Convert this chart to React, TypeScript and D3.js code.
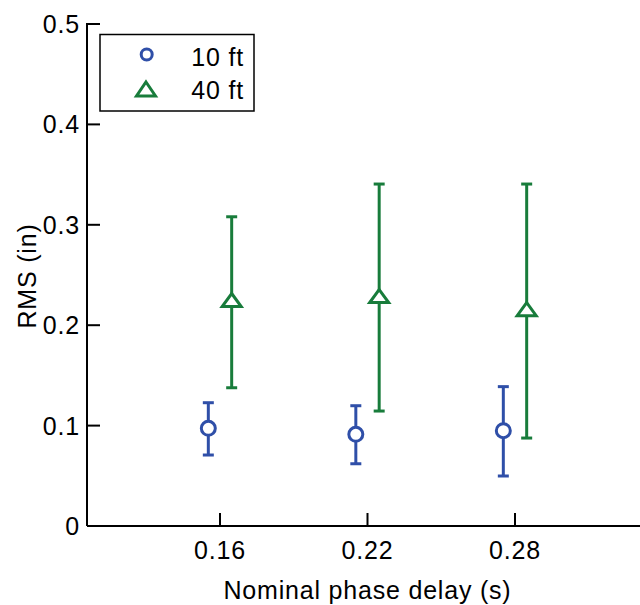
import React from "react";
import * as d3 from "d3";

const categories = [0.16, 0.22, 0.28];
const xTickLabels = ["0.16", "0.22", "0.28"];
const yTicks = [0, 0.1, 0.2, 0.3, 0.4, 0.5];
const yTickLabels = ["0", "0.1", "0.2", "0.3", "0.4", "0.5"];

const series10Mean = [0.0973, 0.0913, 0.0949];
const series10Upper = [0.1228, 0.1198, 0.1388];
const series10Lower = [0.0707, 0.062, 0.0498];

const series40Mean = [0.2251, 0.229, 0.216];
const series40Upper = [0.308, 0.3406, 0.3406];
const series40Lower = [0.1377, 0.1145, 0.0876];

const seriesNames = ["10 ft", "40 ft"];

const BLUE = "#2f4fa8";
const GREEN = "#187c3b";
const FONT = "'Liberation Sans', Arial, Helvetica, sans-serif";

export default function App() {
  const W = 640;
  const H = 605;
  const x = d3.scaleLinear().domain([0.16, 0.28]).range([220, 515]);
  const y = d3.scaleLinear().domain([0, 0.5]).range([526, 24]);
  const x0 = 87;
  const xEnd = 642;
  const offset = 0.00475;
  const tick = 13;
  const fs = 25;
  const ls = 0.8;

  const triPath = (cx: number, cy: number, w: number, h: number) =>
    `M${cx},${cy - h / 2}L${cx + w / 2},${cy + h / 2}L${cx - w / 2},${cy + h / 2}Z`;

  const series = [
    { name: seriesNames[0], mean: series10Mean, up: series10Upper, lo: series10Lower, color: BLUE, dx: -offset, marker: "o" },
    { name: seriesNames[1], mean: series40Mean, up: series40Upper, lo: series40Lower, color: GREEN, dx: offset, marker: "^" },
  ];

  return (
    <svg width={W} height={H} style={{ position: "absolute", left: 0, top: 0, background: "#fff" }}>
      <rect x={0} y={0} width={W} height={H} fill="#fff" />
      {/* axes */}
      <line x1={x0} y1={y(0)} x2={xEnd} y2={y(0)} stroke="#000" strokeWidth={2} />
      <line x1={x0} y1={y(0)} x2={x0} y2={y(0.5) - 1} stroke="#000" strokeWidth={2} />
      {yTicks.map((t, i) => (
        <g key={"yt" + i}>
          <line x1={x0} x2={x0 + tick} y1={y(t)} y2={y(t)} stroke="#000" strokeWidth={2} />
          <text x={80} y={y(t)} dy="0.36em" textAnchor="end" fontFamily={FONT} fontSize={fs} letterSpacing={ls} fill="#000">
            {yTickLabels[i]}
          </text>
        </g>
      ))}
      {categories.map((c, i) => (
        <g key={"xt" + i}>
          <line x1={x(c)} x2={x(c)} y1={y(0)} y2={y(0) - tick} stroke="#000" strokeWidth={2} />
          <text x={x(c)} y={559} textAnchor="middle" fontFamily={FONT} fontSize={fs} letterSpacing={ls} fill="#000">
            {xTickLabels[i]}
          </text>
        </g>
      ))}
      <text x={(x(0.16) + x(0.28)) / 2} y={599} textAnchor="middle" fontFamily={FONT} fontSize={fs} letterSpacing={ls} fill="#000">
        Nominal phase delay (s)
      </text>
      <text transform="translate(36,276) rotate(-90)" textAnchor="middle" fontFamily={FONT} fontSize={fs} letterSpacing={ls} fill="#000">
        RMS (in)
      </text>

      {/* error bars */}
      {series.map((s, si) =>
        categories.map((c, i) => {
          const cx = x(c + s.dx);
          const cy = y(s.mean[i]);
          return (
            <g key={`s${si}-${i}`}>
              <line x1={cx} x2={cx} y1={y(s.up[i])} y2={y(s.lo[i])} stroke={s.color} strokeWidth={3} />
              <line x1={cx - 5.5} x2={cx + 5.5} y1={y(s.up[i])} y2={y(s.up[i])} stroke={s.color} strokeWidth={3} />
              <line x1={cx - 5.5} x2={cx + 5.5} y1={y(s.lo[i])} y2={y(s.lo[i])} stroke={s.color} strokeWidth={3} />
              {s.marker === "o" ? (
                <circle cx={cx} cy={cy} r={7} fill="#fff" stroke={s.color} strokeWidth={3} />
              ) : (
                <path d={triPath(cx, cy, 19, 13)} fill="#fff" stroke={s.color} strokeWidth={3} strokeLinejoin="miter" />
              )}
            </g>
          );
        })
      )}

      {/* legend */}
      <rect x={100} y={34.5} width={154} height={76.5} fill="#fff" stroke="#000" strokeWidth={1.5} />
      <circle cx={146.7} cy={54.5} r={5.5} fill="#fff" stroke={BLUE} strokeWidth={3} />
      <text x={244} y={65.5} textAnchor="end" fontFamily={FONT} fontSize={fs} letterSpacing={ls} fill="#000">
        {seriesNames[0]}
      </text>
      <path d={triPath(146, 89, 19, 14)} fill="#fff" stroke={GREEN} strokeWidth={3} />
      <text x={244} y={99} textAnchor="end" fontFamily={FONT} fontSize={fs} letterSpacing={ls} fill="#000">
        {seriesNames[1]}
      </text>
    </svg>
  );
}
